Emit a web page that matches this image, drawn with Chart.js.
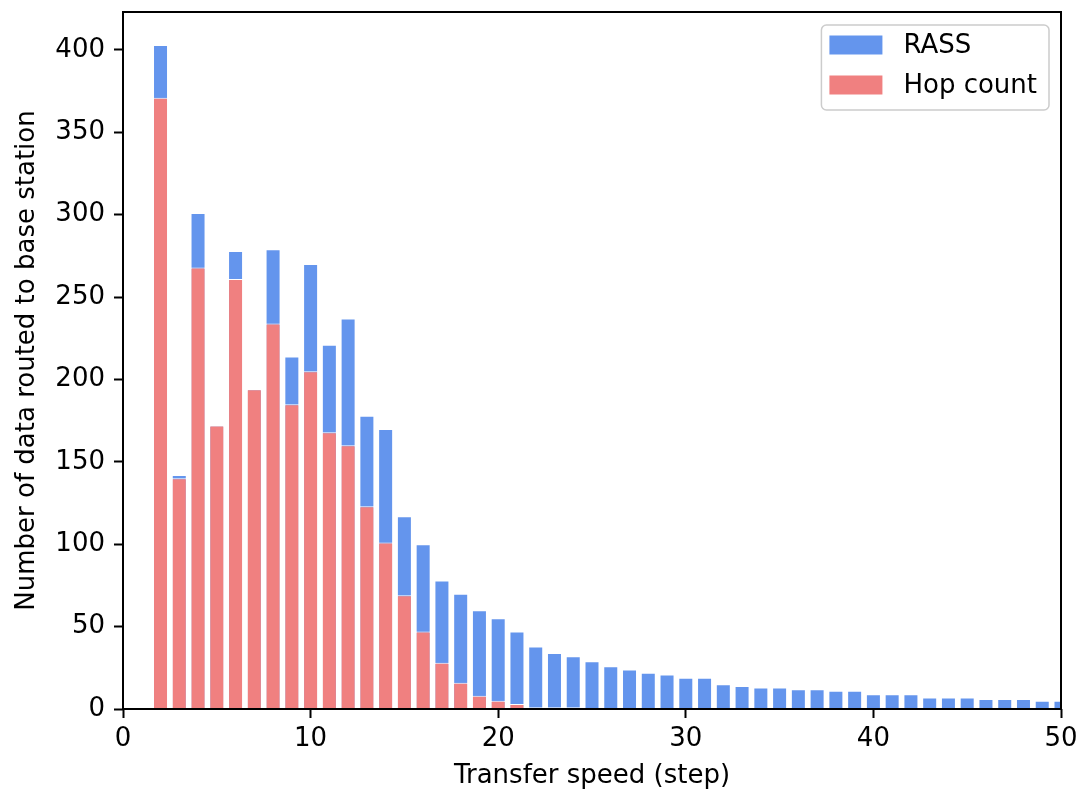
<!DOCTYPE html>
<html>
<head>
<meta charset="utf-8">
<title>RASS vs Hop count</title>
<script src="https://cdn.jsdelivr.net/npm/chart.js@4/dist/chart.umd.min.js"></script>
<style>
  html, body { margin: 0; padding: 0; background: #fff; }
  #wrap { width: 1078px; height: 795px; }
</style>
</head>
<body>
<div id="wrap"><canvas id="speedChart" width="1078" height="795"></canvas></div>
<script>
// Transfer speed (step) 2..50
const steps = [2, 3, 4, 5, 6, 7, 8, 9, 10, 11, 12, 13, 14, 15, 16, 17, 18, 19, 20,
    21, 22, 23, 24, 25, 26, 27, 28, 29, 30, 31, 32, 33, 34, 35, 36, 37, 38, 39, 40,
    41, 42, 43, 44, 45, 46, 47, 48, 49, 50];

const rassValues = [403, 142, 301, 172, 278, 194, 279, 214, 270, 221, 237, 178, 170, 117, 100, 78, 70, 60, 55,
    47, 38, 34, 32, 29, 26, 24, 22, 21, 19, 19, 15, 14, 13, 13, 12, 12, 11, 11, 9,
    9, 9, 7, 7, 7, 6, 6, 6, 5, 5];

const hopValues = [371, 140, 268, 172, 261, 194, 234, 185, 205, 168, 160, 123, 101, 69, 47, 28, 16, 8, 5,
    3, 1, 1, 1, 0, 0, 0, 0, 0, 0, 0, 0, 0, 0, 0, 0, 0, 0, 0, 0,
    0, 0, 0, 0, 0, 0, 0, 0, 0, 0];

const yTicks = [0, 50, 100, 150, 200, 250, 300, 350, 400];
const xTicks = [0, 10, 20, 30, 40, 50];

const FONT = 'DejaVu Sans';
const FS = 26;

Chart.defaults.color = '#000';
Chart.defaults.font.family = FONT;
Chart.defaults.font.size = FS;

function toPoints(vals) {
    return steps.map((s, i) => ({ x: s, y: vals[i] }));
}

// full box round the plot area (matplotlib spines)
const framePlugin = {
    id: 'frame',
    afterDatasetsDraw(chart) {
        const a = chart.chartArea;
        const ctx = chart.ctx;
        ctx.save();
        ctx.strokeStyle = '#000';
        ctx.lineWidth = 2;
        ctx.strokeRect(a.left, a.top, a.right - a.left, a.bottom - a.top);
        ctx.restore();
    }
};

// legend drawn inside the axes, upper right
const boxLegend = {
    id: 'boxLegend',
    afterDraw(chart) {
        const ctx = chart.ctx;
        const a = chart.chartArea;
        const sets = chart.data.datasets;
        ctx.save();
        ctx.font = FS + 'px "' + FONT + '"';
        let textW = 0;
        sets.forEach(d => { textW = Math.max(textW, ctx.measureText(d.label).width); });
        const padL = 8, padR = 12, swW = 53, swH = 19, gap = 21, rowH = 40, padT = 20;
        const w = padL + swW + gap + textW + padR;
        const h = padT * 2 + rowH * (sets.length - 1) + 5;
        const x0 = a.right - 12 - w;
        const y0 = a.top + 13;
        ctx.fillStyle = 'rgba(255,255,255,0.8)';
        ctx.strokeStyle = '#cccccc';
        ctx.lineWidth = 1.5;
        ctx.beginPath();
        ctx.roundRect(x0, y0, w, h, 5);
        ctx.fill();
        ctx.stroke();
        sets.forEach((d, i) => {
            const cy = y0 + padT + i * rowH;
            ctx.fillStyle = d.backgroundColor;
            ctx.fillRect(x0 + padL, cy - swH / 2, swW, swH);
            ctx.fillStyle = '#000';
            ctx.textBaseline = 'middle';
            ctx.textAlign = 'left';
            ctx.fillText(d.label, x0 + padL + swW + gap, cy + 1);
        });
        ctx.restore();
    }
};

const ctx = document.getElementById('speedChart').getContext('2d');

new Chart(ctx, {
    type: 'bar',
    data: {
        datasets: [{
            label: 'RASS',
            data: toPoints(rassValues),
            backgroundColor: '#6495ED',
            borderColor: '#ffffff',
            borderWidth: 1,
            order: 1
        }, {
            label: 'Hop count',
            data: toPoints(hopValues),
            backgroundColor: '#F08080',
            borderColor: '#ffffff',
            borderWidth: 1,
            order: 0
        }]
    },
    options: {
        responsive: false,
        animation: false,
        grouped: false,
        categoryPercentage: 1.0,
        barPercentage: 0.8,
        layout: { padding: { top: 12, right: 17, left: 0, bottom: 0 } },
        plugins: {
            legend: { display: false },
            tooltip: { enabled: false }
        },
        scales: {
            x: {
                type: 'linear',
                min: 0,
                max: 50,
                offset: false,
                afterFit(scale) {
                    scale.height = 86;
                    scale.paddingLeft = 0;
                    scale.paddingRight = 0;
                },
                afterBuildTicks(scale) { scale.ticks = xTicks.map(v => ({ value: v })); },
                ticks: { padding: 6, maxRotation: 0, font: { size: FS } },
                grid: { display: true, offset: false, drawOnChartArea: false, tickLength: 9, tickWidth: 2, tickColor: '#000' },
                border: { display: false },
                title: {
                    display: true,
                    text: 'Transfer speed (step)',
                    font: { size: FS },
                    padding: { top: 0, bottom: 3 }
                }
            },
            y: {
                min: 0,
                max: 423,
                afterFit(scale) {
                    scale.width = 123;
                    scale.paddingTop = 0;
                    scale.paddingBottom = 0;
                },
                afterBuildTicks(scale) { scale.ticks = yTicks.map(v => ({ value: v })); },
                ticks: { padding: 9, font: { size: FS } },
                grid: { display: true, offset: false, drawOnChartArea: false, tickLength: 9, tickWidth: 2, tickColor: '#000' },
                border: { display: false },
                title: {
                    display: true,
                    text: 'Number of data routed to base station',
                    font: { size: FS },
                    padding: { top: 12, bottom: 0 }
                }
            }
        }
    },
    plugins: [framePlugin, boxLegend]
});
</script>
</body>
</html>
